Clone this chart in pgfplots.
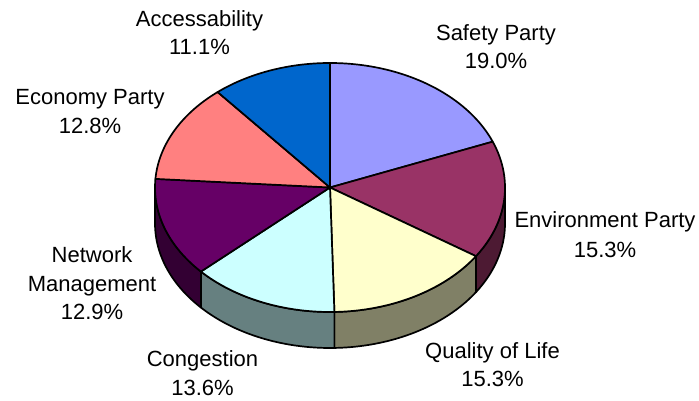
\documentclass[border=0pt]{standalone}
\usepackage{pgfplots}
\pgfplotsset{compat=1.18}
\usepackage{fontspec}
\setmainfont{Liberation Sans}
\definecolor{cAcc}{HTML}{0066CC}
\definecolor{cSaf}{HTML}{9999FF}
\definecolor{cEnv}{HTML}{993366}
\definecolor{cQol}{HTML}{FFFFCC}
\definecolor{cCon}{HTML}{CCFFFF}
\definecolor{cNet}{HTML}{660066}
\definecolor{cEco}{HTML}{FF8080}
\definecolor{wEnv}{HTML}{4D1A33}
\definecolor{wQol}{HTML}{808066}
\definecolor{wCon}{HTML}{668080}
\definecolor{wNet}{HTML}{330033}
% shares in percent (clockwise from 12 o'clock)
\def\pSaf{19.0}\def\pEnv{15.3}\def\pQol{15.3}\def\pCon{13.6}\def\pNet{12.9}\def\pEco{12.8}\def\pAcc{11.1}
% top face of one slice, angles a (start) > b (end)
\newcommand{\slice}[3]{%
  \addplot[fill=#3, draw=black, line width=1.7pt, line join=round, domain=#2:#1, samples=80, variable=\t]
    ({ex(\t)},{ey(\t)}) -- (axis cs:330,213.5) -- cycle;}
% front wall from angle a down to b
\newcommand{\wall}[3]{%
  \addplot[fill=#3, draw=black, line width=1.7pt, line join=round, domain=0:120, samples=121, variable=\s]
    ({ex(wt(\s,#1,#2))},{ey(wt(\s,#1,#2)) - wd(\s)}) -- cycle;}
\tikzset{lbl/.style={anchor=base, inner sep=0pt, font=\fontsize{22}{27}\selectfont}}
\begin{document}
\begin{tikzpicture}
\begin{axis}[scale only axis, width=699pt, height=401pt,
  xmin=0, xmax=699, ymin=0, ymax=401, hide axis, clip=false,
  declare function={
    ex(\t)=330+175*cos(\t);
    ey(\t)=213.5+124.5*sin(\t);
    wt(\s,\a,\b)=(\s<40.5) ? (\a+(\b-\a)*\s/40) : ((\s<80.5) ? \b : (\b-(\b-\a)*(\s-80)/40));
    wd(\s)=(\s<40.5) ? 0 : ((\s<80.5) ? 36*(\s-40)/40 : 36);
  }]
\addplot[draw=none] coordinates {(0,0) (699,401)};
% cumulative angles
\pgfmathsetmacro{\aA}{90}
\pgfmathsetmacro{\aB}{\aA-3.6*\pSaf}
\pgfmathsetmacro{\aC}{\aB-3.6*\pEnv}
\pgfmathsetmacro{\aD}{\aC-3.6*\pQol}
\pgfmathsetmacro{\aE}{\aD-3.6*\pCon}
\pgfmathsetmacro{\aF}{\aE-3.6*\pNet}
\pgfmathsetmacro{\aG}{\aF-3.6*\pEco}
\pgfmathsetmacro{\aH}{\aG-3.6*\pAcc}
% walls
\wall{0}{\aC}{wEnv}
\wall{\aC}{\aD}{wQol}
\wall{\aD}{\aE}{wCon}
\wall{\aE}{-180}{wNet}
% top faces
\slice{\aA}{\aB}{cSaf}
\slice{\aB}{\aC}{cEnv}
\slice{\aC}{\aD}{cQol}
\slice{\aD}{\aE}{cCon}
\slice{\aE}{\aF}{cNet}
\slice{\aF}{\aG}{cEco}
\slice{\aG}{\aH}{cAcc}
% labels
\node[lbl] at (axis cs:199.5,374) {Accessability};
\node[lbl] at (axis cs:199.5,346) {11.1\%};
\node[lbl] at (axis cs:496,360.3) {Safety Party};
\node[lbl] at (axis cs:496,332) {19.0\%};
\node[lbl] at (axis cs:90,296) {Economy Party};
\node[lbl] at (axis cs:90,267) {12.8\%};
\node[lbl] at (axis cs:605,173) {Environment Party};
\node[lbl] at (axis cs:605,143) {15.3\%};
\node[lbl] at (axis cs:92,138) {Network};
\node[lbl] at (axis cs:92,109) {Management};
\node[lbl] at (axis cs:92,81) {12.9\%};
\node[lbl] at (axis cs:202.5,34) {Congestion};
\node[lbl] at (axis cs:202.5,5) {13.6\%};
\node[lbl] at (axis cs:492.5,42) {Quality of Life};
\node[lbl] at (axis cs:492.5,14) {15.3\%};
\end{axis}
\end{tikzpicture}
\end{document}
